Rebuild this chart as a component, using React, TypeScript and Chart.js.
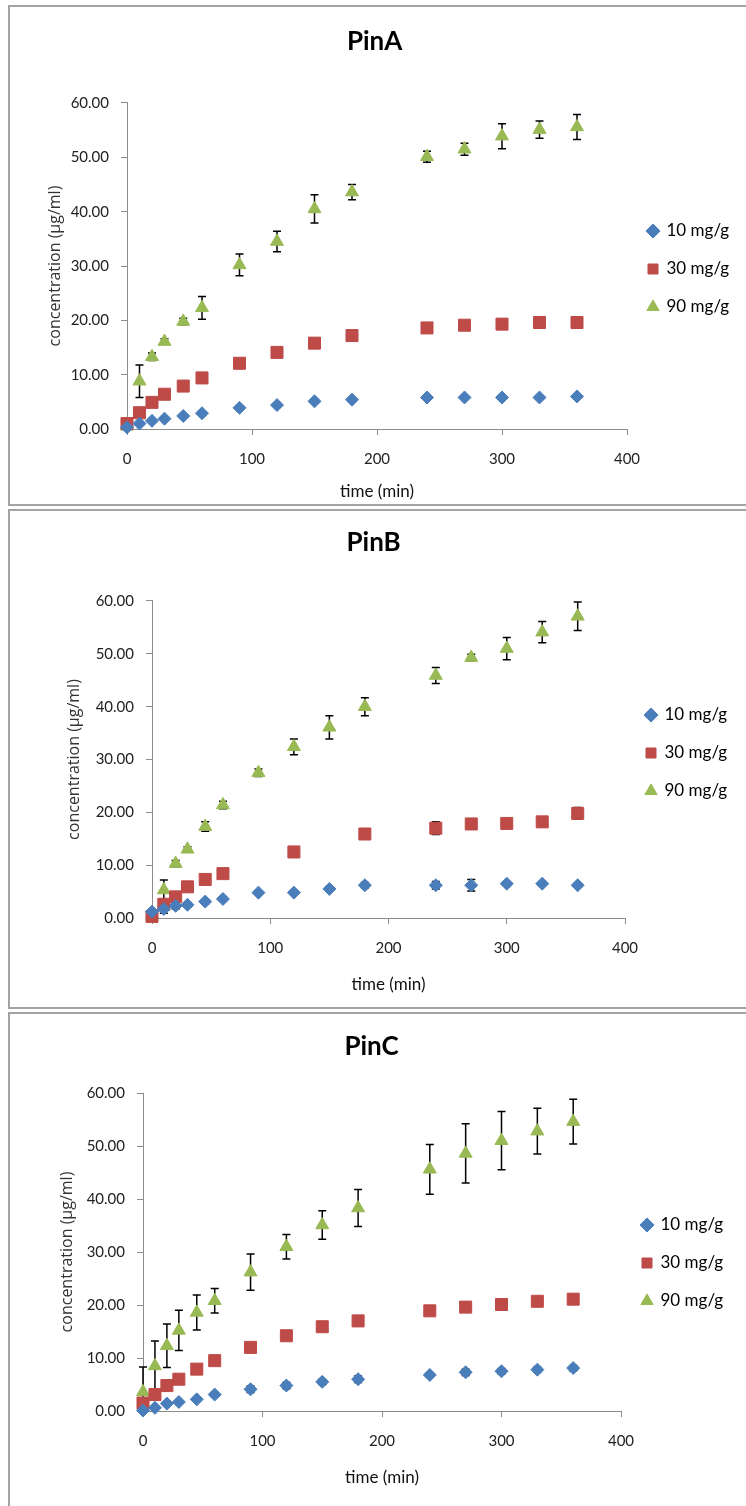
import React, { useEffect, useRef } from "react";
import { Chart, registerables } from "chart.js";

Chart.register(...registerables);

// ---------- data ----------
const times = [0, 10, 20, 30, 45, 60, 90, 120, 150, 180, 240, 270, 300, 330, 360];
const seriesLabels = ["10 mg/g", "30 mg/g", "90 mg/g"];
const xTickValues = [0, 100, 200, 300, 400];
const yTickValues = [0, 10, 20, 30, 40, 50, 60];
const panelTitles = ["PinA", "PinB", "PinC"];

const pinA10 = [0.3, 1.0, 1.5, 1.9, 2.4, 2.9, 3.9, 4.4, 5.1, 5.4, 5.8, 5.8, 5.8, 5.8, 6.0];
const pinA10Err = [0.2, 0.2, 0.2, 0.2, 0.2, 0.2, 0.3, 0.3, 0.3, 0.3, 0.3, 0.3, 0.3, 0.3, 0.3];
const pinA30 = [1.0, 3.0, 4.9, 6.4, 7.9, 9.4, 12.1, 14.1, 15.8, 17.2, 18.6, 19.1, 19.3, 19.6, 19.6];
const pinA30Err = [0.3, 0.3, 0.3, 0.3, 0.3, 0.4, 0.4, 0.4, 0.4, 0.4, 0.4, 0.4, 0.4, 0.4, 0.4];
const pinA90 = [0.5, 8.8, 13.3, 16.1, 19.8, 22.3, 30.2, 34.5, 40.5, 43.6, 50.1, 51.5, 53.9, 55.1, 55.6];
const pinA90Err = [0.3, 3.0, 0.7, 0.5, 0.6, 2.1, 2.0, 1.9, 2.6, 1.4, 1.0, 1.1, 2.3, 1.6, 2.3];

const pinB10 = [1.2, 1.7, 2.3, 2.5, 3.1, 3.6, 4.8, 4.8, 5.5, 6.2, 6.2, 6.2, 6.5, 6.5, 6.2];
const pinB10Err = [0.3, 0.8, 0.6, 0.4, 0.4, 0.4, 0.3, 0.3, 0.3, 0.5, 0.7, 1.1, 0.3, 0.3, 0.3];
const pinB30 = [0.3, 2.6, 4.0, 5.9, 7.3, 8.4, null, 12.5, null, 15.9, 17.0, 17.8, 17.9, 18.2, 19.8];
const pinB30Err = [0.3, 0.5, 0.5, 0.4, 0.4, 0.4, 0, 0.4, 0, 0.5, 1.2, 0.5, 0.5, 0.9, 1.1];
const pinB90 = [0.6, 5.3, 10.3, 13.0, 17.3, 21.4, 27.5, 32.4, 36.1, 40.0, 45.9, 49.3, 51.0, 54.1, 57.1];
const pinB90Err = [0.3, 1.9, 0.6, 0.5, 0.9, 0.7, 0.7, 1.5, 2.2, 1.7, 1.5, 0.6, 2.1, 2.0, 2.7];

const pinC10 = [0.1, 0.6, 1.4, 1.7, 2.2, 3.1, 4.1, 4.8, 5.5, 6.0, 6.8, 7.3, 7.5, 7.8, 8.1];
const pinC10Err = [0.2, 0.3, 0.4, 0.3, 0.3, 0.4, 0.6, 0.6, 0.5, 0.6, 0.4, 0.6, 0.5, 0.5, 0.5];
const pinC30 = [1.5, 3.1, 4.8, 6.0, 7.9, 9.5, 12.0, 14.2, 15.9, 17.0, 18.9, 19.6, 20.1, 20.7, 21.1];
const pinC30Err = [0.3, 0.3, 0.3, 0.3, 0.3, 0.3, 0.3, 0.3, 0.3, 0.3, 0.3, 0.3, 0.3, 0.8, 0.8];
const pinC90 = [3.6, 8.5, 12.3, 15.2, 18.6, 20.8, 26.2, 31.0, 35.1, 38.3, 45.6, 48.6, 51.0, 52.8, 54.6];
const pinC90Err = [4.7, 4.7, 4.1, 3.8, 3.3, 2.3, 3.4, 2.3, 2.7, 3.5, 4.7, 5.6, 5.5, 4.3, 4.2];

// ---------- styles ----------
const seriesColors = ["#4a7ebb", "#be4b48", "#98b954"];
const seriesStyles = ["rectRot", "rect", "triangle"];
const seriesRadius = [6.5, 8.5, 7.5];

type Geo = {
  panelTop: number;
  panelHeight: number;
  bottomBorder: boolean;
  chartLeft: number;
  chartRight: number;
  chartTop: number;
  chartBottom: number;
  titleY: number;
  yTitleX: number;
  xTitleY: number;
  legendY: number;
};

const geos: Geo[] = [
  { panelTop: 5, panelHeight: 501, bottomBorder: true, chartLeft: 127, chartRight: 627, chartTop: 103, chartBottom: 429, titleY: 42, yTitleX: 55, xTitleY: 492, legendY: 231 },
  { panelTop: 509, panelHeight: 500, bottomBorder: true, chartLeft: 152, chartRight: 625, chartTop: 601, chartBottom: 918, titleY: 543, yTitleX: 74, xTitleY: 985, legendY: 715 },
  { panelTop: 1012, panelHeight: 494, bottomBorder: false, chartLeft: 143, chartRight: 621, chartTop: 1093, chartBottom: 1411, titleY: 1047, yTitleX: 67, xTitleY: 1478, legendY: 1225 },
];

const panelSeries = [
  [pinA10, pinA30, pinA90],
  [pinB10, pinB30, pinB90],
  [pinC10, pinC30, pinC90],
];
const panelErrors = [
  [pinA10Err, pinA30Err, pinA90Err],
  [pinB10Err, pinB30Err, pinB90Err],
  [pinC10Err, pinC30Err, pinC90Err],
];

const PANEL_LEFT = 8;
const PANEL_WIDTH = 738;
const BORDER = 2;
const CANVAS_LEFT = PANEL_LEFT + BORDER;
const CANVAS_WIDTH = PANEL_WIDTH - BORDER;

const errorBarPlugin = {
  id: "errorBars",
  beforeDatasetsDraw(chart: any, _args: any, opts: any) {
    const errs: number[][] = opts.errors || [];
    const xs = chart.scales.x;
    const ys = chart.scales.y;
    const ctx = chart.ctx;
    const ca = chart.chartArea;
    ctx.save();
    ctx.beginPath();
    ctx.rect(ca.left - 20, ca.top - 20, ca.right - ca.left + 40, ca.bottom - ca.top + 20);
    ctx.clip();
    ctx.strokeStyle = "#000";
    ctx.lineWidth = 1.5;
    chart.data.datasets.forEach((ds: any, i: number) => {
      const e = errs[i];
      if (!e) return;
      ds.data.forEach((p: any, j: number) => {
        if (p.y === null || p.y === undefined) return;
        const err = e[j] || 0;
        if (err <= 0) return;
        const px = xs.getPixelForValue(p.x);
        const y1 = ys.getPixelForValue(p.y + err);
        const y2 = ys.getPixelForValue(p.y - err);
        const cap = 4;
        ctx.beginPath();
        ctx.moveTo(px, y1);
        ctx.lineTo(px, y2);
        ctx.moveTo(px - cap, y1);
        ctx.lineTo(px + cap, y1);
        ctx.moveTo(px - cap, y2);
        ctx.lineTo(px + cap, y2);
        ctx.stroke();
      });
    });
    ctx.restore();
  },
};

function Panel({ index }: { index: number }) {
  const ref = useRef<HTMLCanvasElement | null>(null);
  const g = geos[index];
  const canvasTop = g.panelTop + BORDER;
  const canvasHeight = g.panelHeight - BORDER - (g.bottomBorder ? BORDER : 0);

  useEffect(() => {
    if (!ref.current) return;
    const cl = g.chartLeft - CANVAS_LEFT;
    const cr = g.chartRight - CANVAS_LEFT;
    const ct = g.chartTop - canvasTop;
    const cb = g.chartBottom - canvasTop;

    const titleSize = 26;
    const titleLH = titleSize * 1.2;
    const titleCenter = g.titleY - canvasTop;
    const titlePadTop = titleCenter - titleLH / 2;
    const titlePadBottom = ct - titlePadTop - titleLH;

    const yTitleSize = 16;
    const yTitleLH = yTitleSize * 1.2;
    const yTitlePad = g.yTitleX - CANVAS_LEFT - yTitleLH / 2;

    const xTitleSize = 17;
    const xTitleLH = xTitleSize * 1.2;
    const xTitlePad = canvasHeight - (g.xTitleY - canvasTop) - xTitleLH / 2;

    const legendFont = 17;
    const legendPad = 21;
    const boxW = 10;
    const mctx = document.createElement("canvas").getContext("2d")!;
    mctx.font = `${legendFont}px Lato`;
    let maxW = 0;
    seriesLabels.forEach((s) => {
      maxW = Math.max(maxW, mctx.measureText(s).width);
    });
    const legendWidth = legendPad + boxW + legendFont / 2 + maxW + 10;
    const padRight = Math.max(0, CANVAS_WIDTH - cr - legendWidth);
    const itemH = legendFont;
    const legendTitleH = g.legendY - canvasTop - ct - legendPad - itemH / 2;
    const legendTitleLH = 12;

    const datasets = panelSeries[index].map((vals, si) => ({
      label: seriesLabels[si],
      data: times.map((t, k) => ({ x: t, y: vals[k] })),
      backgroundColor: seriesColors[si],
      borderColor: seriesColors[si],
      pointStyle: seriesStyles[si],
      pointRadius: seriesRadius[si],
      pointHoverRadius: seriesRadius[si],
      pointBorderWidth: 1,
      showLine: false,
      clip: false,
    }));

    const chart = new Chart(ref.current, {
      type: "scatter",
      data: { datasets },
      plugins: [errorBarPlugin],
      options: {
        responsive: false,
        animation: false,
        devicePixelRatio: 1,
        layout: { padding: { left: 0, top: 0, bottom: 0, right: padRight } },
        plugins: {
          tooltip: { enabled: false },
          title: {
            display: true,
            text: panelTitles[index],
            color: "#000",
            font: { family: "Lato", size: titleSize, weight: "bold" },
            padding: { top: titlePadTop, bottom: titlePadBottom },
          },
          legend: {
            display: true,
            position: "right",
            align: "start",
            fullSize: false,
            title: {
              display: true,
              text: "",
              font: { size: 10 },
              padding: { top: Math.max(0, legendTitleH - legendTitleLH), bottom: 0 },
            },
            labels: {
              usePointStyle: true,
              boxWidth: boxW,
              boxHeight: boxW,
              padding: legendPad,
              color: "#000",
              font: { family: "Lato", size: legendFont },
            },
          },
          errorBars: { errors: panelErrors[index] },
        } as any,
        scales: {
          x: {
            type: "linear",
            min: xTickValues[0],
            max: xTickValues[xTickValues.length - 1],
            afterFit: (s: any) => {
              s.height = canvasHeight - cb;
            },
            afterBuildTicks: (s: any) => {
              s.ticks = xTickValues.map((v) => ({ value: v }));
            },
            ticks: {
              color: "#222",
              padding: 15,
              font: { family: "Lato", size: 15 },
              callback: (v: any) => String(v),
            },
            grid: { drawOnChartArea: false, drawTicks: true, tickLength: 6, color: "#8c8c8c" },
            border: { display: true, color: "#8c8c8c", width: 1 },
            title: {
              display: true,
              text: "time (min)",
              color: "#111",
              font: { family: "Lato", size: xTitleSize },
              padding: { top: 0, bottom: xTitlePad },
            },
          },
          y: {
            type: "linear",
            min: yTickValues[0],
            max: yTickValues[yTickValues.length - 1],
            afterFit: (s: any) => {
              s.width = cl;
            },
            afterBuildTicks: (s: any) => {
              s.ticks = yTickValues.map((v) => ({ value: v }));
            },
            ticks: {
              color: "#222",
              padding: 12,
              font: { family: "Lato", size: 15 },
              callback: (v: any) => Number(v).toFixed(2),
            },
            grid: { drawOnChartArea: false, drawTicks: true, tickLength: 6, color: "#8c8c8c" },
            border: { display: true, color: "#8c8c8c", width: 1 },
            title: {
              display: true,
              text: "concentration (µg/ml)",
              color: "#333",
              font: { family: "Open Sans", size: yTitleSize },
              padding: { top: yTitlePad, bottom: 0 },
            },
          },
        },
      } as any,
    });
    return () => chart.destroy();
  }, [index]);

  return (
    <div
      style={{
        position: "absolute",
        left: PANEL_LEFT,
        top: g.panelTop,
        width: PANEL_WIDTH,
        height: g.panelHeight,
        boxSizing: "border-box",
        borderLeft: `${BORDER}px solid #a3a3a3`,
        borderTop: `${BORDER}px solid #a3a3a3`,
        borderBottom: g.bottomBorder ? `${BORDER}px solid #a3a3a3` : "none",
        background: "#fff",
      }}
    >
      <canvas
        ref={ref}
        width={CANVAS_WIDTH}
        height={canvasHeight}
        style={{ display: "block", width: CANVAS_WIDTH, height: canvasHeight }}
      />
    </div>
  );
}

export default function App() {
  return (
    <div>
      {panelTitles.map((_, i) => (
        <Panel key={i} index={i} />
      ))}
    </div>
  );
}
